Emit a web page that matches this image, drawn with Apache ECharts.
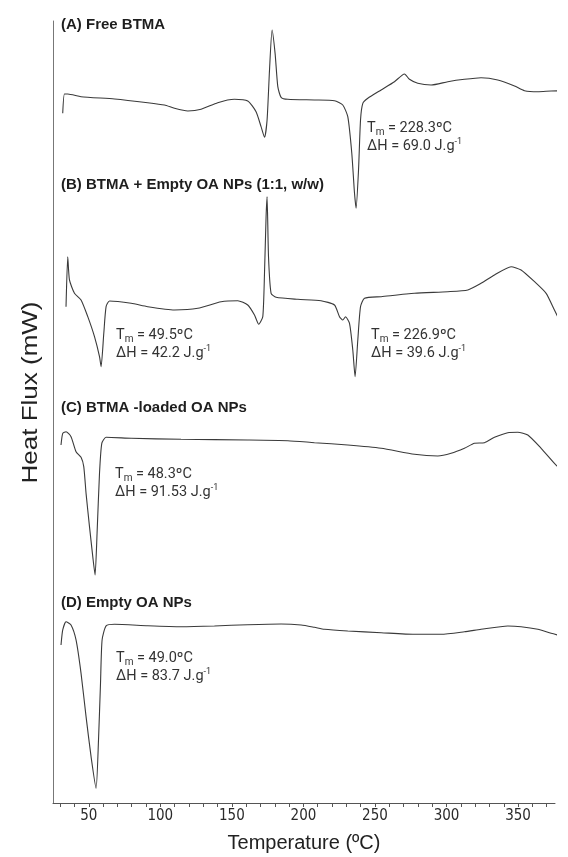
<!DOCTYPE html>
<html><head><meta charset="utf-8">
<script src="https://cdn.jsdelivr.net/npm/echarts@6/dist/echarts.min.js"></script>
<style>html,body{margin:0;padding:0;background:#fff}#c{width:568px;height:857px}</style>
</head><body><div id="c"></div>
<script>
// Temperature (ºC) and heat flux (arbitrary offset units)
const tempA=[31.8,33.0,35.3,44.6,68.0,91.2,102.9,109.9,119.2,128.5,140.1,151.8,161.1,166.9,170.4,172.8,174.6,176.3,178.1,180.2,182.1,184.4,189.1,207.7,221.7,227.5,231.0,233.8,235.7,236.8,238.5,239.9,241.5,245.0,254.3,263.6,270.6,274.1,279.9,289.2,300.9,312.5,324.1,335.8,347.5,354.5,363.8,373.1,383.5];
const fluxA=[88.46,90.88,90.88,90.54,90.25,89.79,89.5,89.09,88.75,88.96,89.79,90.21,90.0,88.66,86.79,85.46,87.63,93.88,98.88,95.96,91.79,90.46,90.21,90.13,90.04,89.5,88.04,83.46,78.46,76.59,81.38,87.63,89.71,90.34,91.38,92.41,93.38,92.71,92.21,92.0,92.41,92.71,92.91,92.63,91.88,91.29,91.16,91.25,91.29];

const tempB=[34.1,35.3,36.5,40.0,44.6,49.3,54.0,57.5,58.6,60.5,62.1,64.5,79.6,91.2,109.9,126.2,142.5,154.1,161.1,165.8,168.8,171.6,172.8,173.9,174.6,175.6,177.4,180.9,196.1,212.3,221.7,225.2,227.5,229.4,232.2,234.5,236.1,238.0,239.9,242.7,254.3,277.6,300.9,314.9,324.1,333.5,345.1,352.1,361.5,369.6,375.4,383.5];
const fluxB=[64.29,70.54,67.63,65.96,65.13,63.04,60.54,58.04,56.79,60.96,64.29,65.0,64.71,64.29,63.88,64.09,64.91,65.04,64.5,63.25,62.09,63.04,68.46,75.54,78.04,70.54,65.96,65.46,65.21,65.04,64.5,63.04,62.63,63.04,62.21,58.88,55.54,60.13,64.29,65.34,65.54,65.96,66.16,66.38,67.21,68.25,69.29,68.88,67.41,65.96,63.88,60.96];

const tempC=[30.6,31.8,34.1,37.6,41.1,44.6,46.5,48.1,50.5,52.8,54.4,55.8,57.5,59.1,62.1,79.6,114.5,161.1,189.1,207.7,231.0,254.3,277.6,293.9,303.2,312.5,319.5,326.5,333.5,342.8,349.8,356.8,366.1,375.4,382.4];
const fluxC=[47.0,48.46,48.66,48.04,46.16,45.46,44.29,40.96,36.79,33.04,30.75,35.96,43.46,47.21,47.96,47.84,47.71,47.63,47.54,47.29,47.0,46.59,45.84,45.63,45.96,46.59,47.21,47.29,47.96,48.54,48.59,48.25,46.59,44.71,43.46];

const tempD=[30.6,31.8,34.1,37.6,41.1,44.6,48.1,51.6,55.1,56.8,58.2,59.3,62.1,68.0,91.2,114.5,137.8,161.1,184.4,198.4,207.7,214.7,231.0,254.3,277.6,296.2,312.5,324.1,342.8,352.1,363.8,373.1,382.4];
const fluxD=[22.0,23.88,24.91,24.5,22.63,18.46,13.04,8.04,4.09,10.13,17.21,22.63,24.38,24.59,24.41,24.29,24.38,24.54,24.63,24.5,24.21,23.96,23.75,23.54,23.34,23.34,23.66,23.96,24.38,24.29,23.96,23.46,23.04];

const xTickValues=[30,40,50,60,70,80,90,100,110,120,130,140,150,160,170,180,190,200,210,220,230,240,250,260,270,280,290,300,310,320,330,340,350,360,370];
const xLabelValues=[50,100,150,200,250,300,350];

const panelTitles=['(A) Free BTMA','(B) BTMA + Empty OA NPs (1:1, w/w)','(C) BTMA -loaded OA NPs','(D) Empty OA NPs'];
const noteTm=['228.3','49.5','226.9','48.3','49.0'];
const noteDH=['69.0','42.2','39.6','91.53','83.7'];

function zip(t,f){const n=Math.min(t.length,f.length);const o=[];for(let i=0;i<n;i++)o.push([t[i],f[i]]);return o;}

const chart=echarts.init(document.getElementById('c'),null,{renderer:'canvas'});
const lineStyle={color:'#3a3a3a',width:1.1};
const mk=(name,t,f)=>({name,type:'line',data:zip(t,f),showSymbol:false,symbol:'none',smooth:0.2,clip:false,lineStyle,silent:true,animation:false});

const titlePos=[[61,25],[61,185],[61,408],[61,603]];
const notePos=[[367,119],[116,326],[371,326],[115,465],[116,649]];
const labelFont='"Liberation Sans", Arial, sans-serif';
const noteFont='Roboto, "Liberation Sans", sans-serif';
const tickFont='"Liberation Sans Narrow", "DejaVu Sans Condensed", "Liberation Sans", sans-serif';

const graphics=[];
panelTitles.forEach((t,i)=>{
  graphics.push({type:'text',x:titlePos[i][0],y:titlePos[i][1],silent:true,
    style:{text:t,fill:'#1e1e1e',font:'bold 15px '+labelFont,verticalAlign:'middle',align:'left'}});
});
noteTm.forEach((tm,i)=>{
  graphics.push({type:'text',x:notePos[i][0],y:notePos[i][1],silent:true,
    style:{text:'T{sub|m} = '+tm+'ºC\nΔH = '+noteDH[i]+' J.g{sup|-1}',
      fill:'#333',fontSize:14.5,fontFamily:noteFont,lineHeight:18.5,verticalAlign:'top',align:'left',
      rich:{sub:{fontSize:10,lineHeight:10,verticalAlign:'bottom',fill:'#333',fontFamily:noteFont},
            sup:{fontSize:9,lineHeight:9,verticalAlign:'top',fill:'#333',fontFamily:noteFont}}}});
});
graphics.push({type:'text',x:30.5,y:392.5,rotation:Math.PI/2,scaleY:0.85,silent:true,
  style:{text:'Heat Flux (mW)',fill:'#222',font:'26px '+labelFont,align:'center',verticalAlign:'middle'}});

chart.setOption({
  animation:false,
  backgroundColor:'#fff',
  grid:{left:53,right:13,top:21,bottom:54,containLabel:false,outerBoundsMode:'none'},
  xAxis:{type:'value',min:25,max:375.8,
    name:'Temperature (ºC)',nameLocation:'middle',nameGap:30,
    nameTextStyle:{fontSize:20,fontFamily:labelFont,color:'#222'},
    axisLine:{show:true,onZero:false,lineStyle:{color:'#555',width:1}},
    axisTick:{show:true,inside:false,length:4,customValues:xTickValues,lineStyle:{color:'#555',width:1}},
    axisLabel:{show:true,margin:6,customValues:xLabelValues,fontSize:15,fontFamily:tickFont,color:'#2a2a2a'},
    splitLine:{show:false},minorTick:{show:false}},
  yAxis:{type:'value',min:2.25,max:100,
    axisLine:{show:true,onZero:false,lineStyle:{color:'#777',width:1}},
    axisTick:{show:false},axisLabel:{show:false},splitLine:{show:false}},
  series:[mk('A',tempA,fluxA),mk('B',tempB,fluxB),mk('C',tempC,fluxC),mk('D',tempD,fluxD)],
  graphic:graphics
});
</script></body></html>
